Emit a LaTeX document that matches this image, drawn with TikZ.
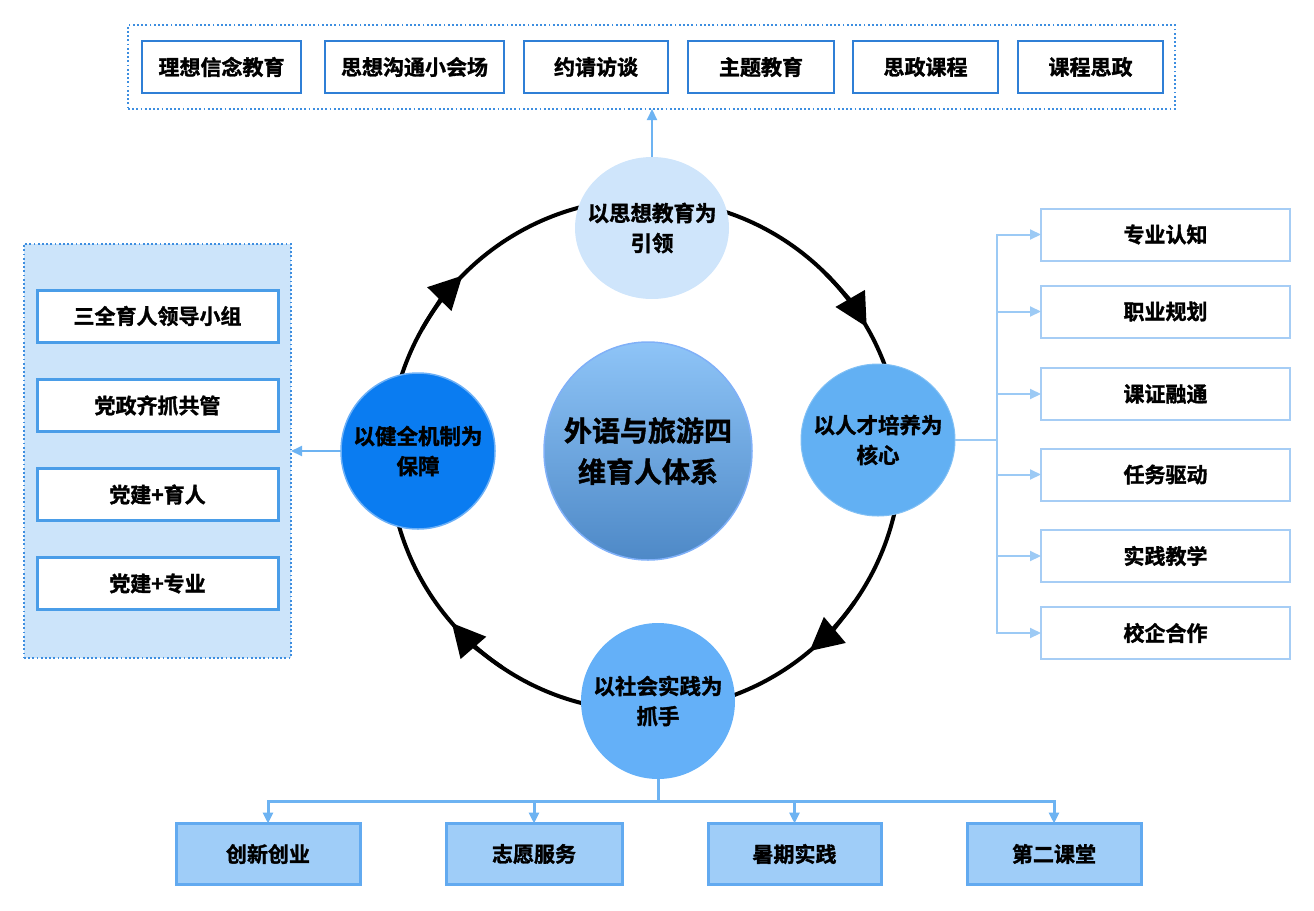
\documentclass[tikz,border=0pt]{standalone}
\usepackage{fontspec}
\setmainfont{Noto Sans CJK SC}[BoldFont={* Bold}, BoldFeatures={FakeBold=1.5}]
\usetikzlibrary{shapes.geometric,arrows.meta,calc}
\definecolor{topblue}{HTML}{2F7FD6}
\definecolor{dotblue}{HTML}{3D8EE0}
\definecolor{leftfill}{HTML}{CCE4FA}
\definecolor{leftedge}{HTML}{4A9DE8}
\definecolor{rightedge}{HTML}{A6CDF5}
\definecolor{botfill}{HTML}{9FCDF8}
\definecolor{botedge}{HTML}{62AAF0}
\definecolor{connA}{HTML}{6DB3F2}
\definecolor{connB}{HTML}{9CCAF5}
\definecolor{ctop}{HTML}{CFE5FB}
\definecolor{cleft}{HTML}{0A7CF1}
\definecolor{cright}{HTML}{62B0F3}
\definecolor{cbot}{HTML}{64B0F8}
\definecolor{cgtop}{HTML}{8EC4F7}
\definecolor{cgbot}{HTML}{4E89C7}
\begin{document}
\begin{tikzpicture}[x=1pt,y=-1pt,
  every node/.style={inner sep=0pt, outer sep=0pt},
  boxtxt/.style={font=\bfseries\fontsize{21}{25}\selectfont},
  topbox/.style={boxtxt, draw=topblue, line width=2pt, fill=white, minimum width=#1, minimum height=52pt},
  leftbox/.style={boxtxt, draw=leftedge, line width=3pt, fill=white, minimum width=241pt, minimum height=52pt},
  rightbox/.style={boxtxt, draw=rightedge, line width=2pt, fill=white, minimum width=249pt, minimum height=52pt},
  botbox/.style={boxtxt, draw=botedge, line width=3pt, fill=botfill, minimum width=#1, minimum height=61pt},
  group/.style={draw=dotblue, line width=1.8pt, dash pattern=on 1.8pt off 2.4pt},
  bubble/.style={ellipse, minimum width=154pt, minimum height=#1},
  bubtext/.style={font=\bfseries\fontsize{21.5}{30}\selectfont, align=center},
  conn/.style={draw=connA, line width=2pt, -{Triangle[length=11pt,width=10pt]}},
  connr/.style={draw=connB, line width=2pt, -{Triangle[length=11pt,width=10pt]}},
  ringtip/.style={line width=4pt, -{Triangle[length=33pt,width=33pt]}}
]
\useasboundingbox (0,0) rectangle (1314,910);

% group frames
\node[group, minimum width=1047pt, minimum height=84pt] (topgrp) at (651.5,67) {};
\node[group, fill=leftfill, minimum width=267pt, minimum height=414pt] (leftgrp) at (157.5,451) {};

% top boxes
\node[topbox=159pt] (t1) at (221.5,67) {理想信念教育};
\node[topbox=179pt] (t2) at (414.5,67) {思想沟通小会场};
\node[topbox=144pt] (t3) at (596,67) {约请访谈};
\node[topbox=146pt] (t4) at (761,67) {主题教育};
\node[topbox=145pt] (t5) at (925.5,67) {思政课程};
\node[topbox=145pt] (t6) at (1090.5,67) {课程思政};

% left boxes
\node[leftbox] (l1) at (157.5,316) {三全育人领导小组};
\node[leftbox] (l2) at (157.5,405.5) {党政齐抓共管};
\node[leftbox] (l3) at (157.5,494.5) {党建+育人};
\node[leftbox] (l4) at (157.5,583.5) {党建+专业};

% right boxes
\node[rightbox] (r1) at (1165.5,234.5) {专业认知};
\node[rightbox] (r2) at (1165.5,311.5) {职业规划};
\node[rightbox] (r3) at (1165.5,394) {课证融通};
\node[rightbox] (r4) at (1165.5,474.5) {任务驱动};
\node[rightbox] (r5) at (1165.5,556) {实践教学};
\node[rightbox] (r6) at (1165.5,633) {校企合作};

% bottom boxes
\node[botbox=184pt] (b1) at (268,854) {创新创业};
\node[botbox=176pt] (b2) at (534,854) {志愿服务};
\node[botbox=173pt] (b3) at (794.5,854) {暑期实践};
\node[botbox=174pt] (b4) at (1054,854) {第二课堂};

% ring
\coordinate (rc) at (645,455);
\draw[line width=4pt] (rc) circle[radius=256];
\draw[ringtip] ($(rc)+(-150.5:256)$) arc[start angle=-150.5, end angle=-135.5, radius=256];
\draw[ringtip] ($(rc)+(-45:256)$) arc[start angle=-45, end angle=-30, radius=256];
\draw[ringtip] ($(rc)+(35:256)$) arc[start angle=35, end angle=50, radius=256];
\draw[ringtip] ($(rc)+(124:256)$) arc[start angle=124, end angle=139, radius=256];

% bubbles
\node[bubble=142pt, fill=ctop, label={[bubtext]center:以思想教育为\\引领}] (ctop) at (652,228) {};
\node[bubble=152pt, fill=cright, draw=cright!80!white, line width=1pt, label={[bubtext]center:以人才培养为\\核心}] (cright) at (878,440) {};
\node[bubble=156pt, fill=cleft, draw=cleft!60!white, line width=1.5pt, label={[bubtext]center:以健全机制为\\保障}] (cleft) at (418,451) {};
\node[bubble=156pt, fill=cbot, label={[bubtext]center:以社会实践为\\抓手}] (cbot) at (658,701) {};
\node[ellipse, minimum width=208pt, minimum height=218pt, top color=cgtop, bottom color=cgbot, draw=cgtop!90!blue, line width=1.5pt,
  label={[font=\bfseries\fontsize{28}{41}\selectfont, align=center]center:外语与旅游四\\维育人体系}] (core) at (648,451) {};

% connectors
\draw[conn] (ctop.north) -- (ctop.north |- topgrp.south);
\draw[conn] (cleft.west) -- (cleft.west -| leftgrp.east);

\coordinate (rbus) at (997,440);
\draw[draw=connB, line width=2pt] (cright.east) -- (rbus);
\foreach \i in {1,...,6} {\draw[connr] (rbus) |- (r\i.west);}

\coordinate (bbus) at (658,801);
\draw[draw=connA, line width=3pt] (cbot.south) -- (bbus);
\foreach \i in {1,...,4} {\draw[conn, line width=3pt] (bbus) -| (b\i.north);}
\end{tikzpicture}
\end{document}
